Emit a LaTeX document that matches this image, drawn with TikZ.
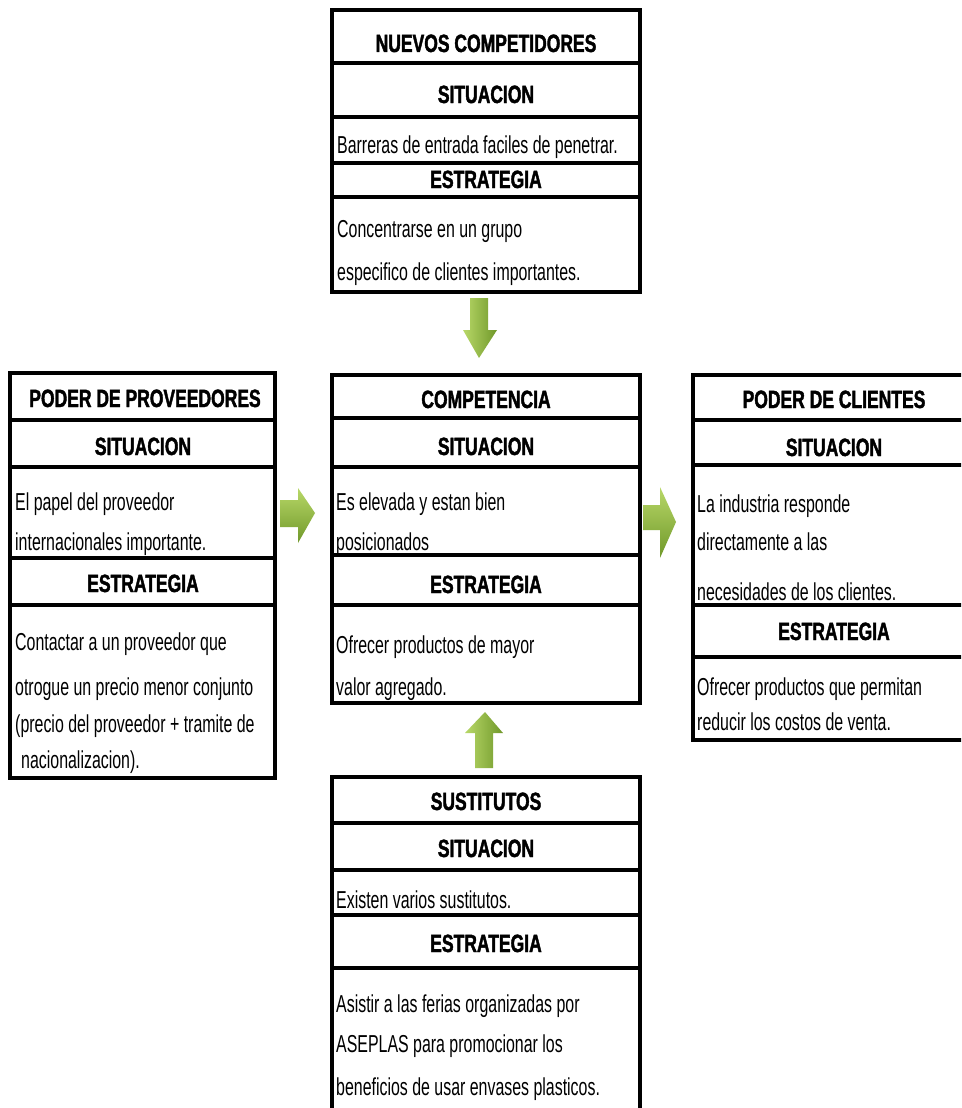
\documentclass[tikz,border=0pt]{standalone}
\usepackage{fontspec}
\setmainfont{Liberation Sans}
\newfontfamily\bodyf[FakeStretch=0.65]{Liberation Sans}
\newfontfamily\titlef[FakeStretch=0.70,FakeBold=1.6]{Liberation Sans Bold}
\usetikzlibrary{fit}
\definecolor{glight}{RGB}{184,216,104}
\definecolor{gmid}{RGB}{146,186,64}
\definecolor{gdark}{RGB}{112,152,42}
\tikzset{
  blockbox/.style={draw=black, line width=3.2pt, inner sep=0pt},
  sep/.style={draw=black, line width=3.2pt},
  body/.style={anchor=base west, inner sep=0pt, font=\bodyf\fontsize{24.5}{25}\selectfont},
  ttl/.style={anchor=base, inner sep=0pt, font=\titlef\fontsize{25}{26}\selectfont},
  garrowv/.style={left color=glight, right color=gdark, draw=none},
  garrowh/.style={top color=glight, bottom color=gdark, draw=none},
}
\begin{document}
\begin{tikzpicture}[x=1pt,y=-1pt]
\useasboundingbox (0,0) rectangle (961,1108);
\fill[white] (0,0) rectangle (961,1108);
\clip (0,0) rectangle (961,1108);

% ---------- NUEVOS COMPETIDORES ----------
\node[blockbox, fit={(332,10) (640,292)}] (nuevos) {};
\draw[sep] (332,63) -- (640,63);
\draw[sep] (332,117) -- (640,117);
\draw[sep] (332,163) -- (640,163);
\draw[sep] (332,197) -- (640,197);
\node[ttl] (n1) at (486,52) {NUEVOS COMPETIDORES};
\node[ttl] (n2) at (486,103) {SITUACION};
\node[body] (n3) at (337,153) {Barreras de entrada faciles de penetrar.};
\node[ttl] (n4) at (486,188) {ESTRATEGIA};
\node[body] (n5) at (337,237) {Concentrarse en un grupo};
\node[body] (n6) at (337,280) {especifico de clientes importantes.};

% ---------- PODER DE PROVEEDORES ----------
\node[blockbox, fit={(10,373) (275,778)}] (prov) {};
\draw[sep] (10,420) -- (275,420);
\draw[sep] (10,467) -- (275,467);
\draw[sep] (10,558) -- (275,558);
\draw[sep] (10,605) -- (275,605);
\node[ttl] (p1) at (145,407) {PODER DE PROVEEDORES};
\node[ttl] (p2) at (143,455) {SITUACION};
\node[body] (p3) at (15,510) {El papel del proveedor};
\node[body] (p4) at (15,550) {internacionales importante.};
\node[ttl] (p5) at (143,592) {ESTRATEGIA};
\node[body] (p6) at (15,650) {Contactar a un proveedor que};
\node[body] (p7) at (15,695) {otrogue un precio menor conjunto};
\node[body] (p8) at (15,732) {(precio del proveedor + tramite de};
\node[body] (p9) at (21,768) {nacionalizacion).};

% ---------- COMPETENCIA ----------
\node[blockbox, fit={(332,375) (640,703)}] (comp) {};
\draw[sep] (332,418) -- (640,418);
\draw[sep] (332,467) -- (640,467);
\draw[sep] (332,555) -- (640,555);
\draw[sep] (332,605) -- (640,605);
\node[ttl] (c1) at (486,408) {COMPETENCIA};
\node[ttl] (c2) at (486,455) {SITUACION};
\node[body] (c3) at (336,510) {Es elevada y estan bien};
\node[body] (c4) at (336,550) {posicionados};
\node[ttl] (c5) at (486,593) {ESTRATEGIA};
\node[body] (c6) at (336,653) {Ofrecer productos de mayor};
\node[body] (c7) at (336,695) {valor agregado.};

% ---------- PODER DE CLIENTES ----------
\node[blockbox, fit={(693,375) (975,740)}] (cli) {};
\draw[sep] (693,420) -- (975,420);
\draw[sep] (693,465) -- (975,465);
\draw[sep] (693,605) -- (975,605);
\draw[sep] (693,657) -- (975,657);
\node[ttl] (k1) at (834,408) {PODER DE CLIENTES};
\node[ttl] (k2) at (834,456) {SITUACION};
\node[body] (k3) at (697,512) {La industria responde};
\node[body] (k4) at (697,550) {directamente a las};
\node[body] (k5) at (697,600) {necesidades de los clientes.};
\node[ttl] (k6) at (834,640) {ESTRATEGIA};
\node[body] (k7) at (697,695) {Ofrecer productos que permitan};
\node[body] (k8) at (697,730) {reducir los costos de venta.};

% ---------- SUSTITUTOS ----------
\node[blockbox, fit={(332,777) (640,1130)}] (sust) {};
\draw[sep] (332,823) -- (640,823);
\draw[sep] (332,870) -- (640,870);
\draw[sep] (332,915) -- (640,915);
\draw[sep] (332,968) -- (640,968);
\node[ttl] (s1) at (486,810) {SUSTITUTOS};
\node[ttl] (s2) at (486,857) {SITUACION};
\node[body] (s3) at (336,908) {Existen varios sustitutos.};
\node[ttl] (s4) at (486,952) {ESTRATEGIA};
\node[body] (s5) at (336,1012) {Asistir a las ferias organizadas por};
\node[body] (s6) at (336,1052) {ASEPLAS para promocionar los};
\node[body] (s7) at (336,1095) {beneficios de usar envases plasticos.};

% ---------- green block arrows ----------
% nuevos -> comp (down)
\path[garrowv] (470,298) -- (488,298) -- (488,330) -- (497,330) -- (479,358)
  -- (463,330) -- (470,330) -- cycle;
% prov -> comp (right)
\path[garrowh] (280,500) -- (298,500) -- (298,488) -- (315,513) -- (298,543)
  -- (298,527) -- (280,527) -- cycle;
% comp -> cli (right)
\path[garrowh] (643,505) -- (660,505) -- (660,487) -- (676,522) -- (660,558)
  -- (660,530) -- (643,530) -- cycle;
% sust -> comp (up)
\path[garrowv] (475,768) -- (475,733) -- (465,733) -- (485,712) -- (503,733)
  -- (493,733) -- (493,768) -- cycle;
\end{tikzpicture}
\end{document}
